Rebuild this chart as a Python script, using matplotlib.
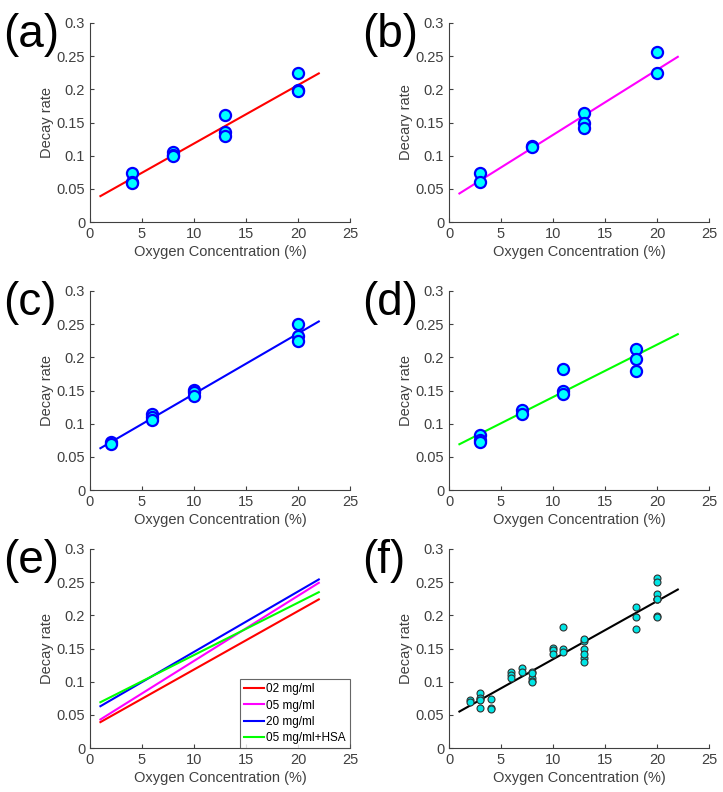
import numpy as np
import matplotlib
matplotlib.use("Agg")
import matplotlib.pyplot as plt

plt.rcParams["font.family"] = ["Liberation Sans", "DejaVu Sans"]

# -------------------------------------------------------
# Data
# -------------------------------------------------------

x_a = [4, 4, 4, 8, 8, 8, 13, 13, 13, 20, 20, 20]
y_a = [0.074, 0.061, 0.059, 0.106, 0.101, 0.100, 0.161, 0.135, 0.129, 0.225, 0.199, 0.198]

x_b = [3, 3, 8, 8, 13, 13, 13, 20, 20]
y_b = [0.074, 0.061, 0.114, 0.113, 0.165, 0.150, 0.141, 0.257, 0.225]

x_c = [2, 2, 6, 6, 6, 10, 10, 10, 20, 20, 20]
y_c = [0.072, 0.070, 0.114, 0.110, 0.105, 0.151, 0.147, 0.142, 0.250, 0.232, 0.224]

x_d = [3, 3, 3, 7, 7, 11, 11, 11, 18, 18, 18]
y_d = [0.083, 0.076, 0.073, 0.121, 0.115, 0.183, 0.150, 0.145, 0.212, 0.198, 0.180]

# fitted lines: intercept, slope (drawn from x=1 to x=22)
fit_a = (0.0302, 0.00881)
fit_b = (0.0332, 0.00981)
fit_c = (0.0539, 0.00910)
fit_d = (0.0611, 0.00790)
fit_all = (0.0462, 0.00876)

fit_range = [1, 22]

legend_labels = ["02 mg/ml", "05 mg/ml", "20 mg/ml", "05 mg/ml+HSA"]
line_colors = ["#ff0000", "#ff00ff", "#0000ff", "#00ff00"]

AX_COLOR = "#404040"


def style_axes(ax, ylabel="Decay rate"):
    ax.set_xlim(0, 25)
    ax.set_ylim(0, 0.3)
    ax.set_xticks([0, 5, 10, 15, 20, 25])
    ax.set_yticks([0, 0.05, 0.1, 0.15, 0.2, 0.25, 0.3])
    ax.set_yticklabels(["0", "0.05", "0.1", "0.15", "0.2", "0.25", "0.3"])
    for side in ["top", "right"]:
        ax.spines[side].set_visible(False)
    for side in ["left", "bottom"]:
        ax.spines[side].set_color(AX_COLOR)
        ax.spines[side].set_linewidth(0.8)
    ax.tick_params(direction="in", length=3, colors=AX_COLOR, labelsize=10.5,
                   labelcolor=AX_COLOR)
    ax.set_xlabel("Oxygen Concentration (%)", fontsize=10.5, color=AX_COLOR, labelpad=3)
    ax.set_ylabel(ylabel, fontsize=10.5, color=AX_COLOR, labelpad=2)


def fit_line(ax, fit, color):
    xs = np.array(fit_range)
    ax.plot(xs, fit[0] + fit[1] * xs, color=color, lw=1.5)


fig = plt.figure(figsize=(7.23, 7.92), dpi=100)
W, H = 723, 792
col_left = [90, 449]
col_w = 260
row_top = [23, 291, 549]
row_h = 199

axes = {}
labels = ["a", "b", "c", "d", "e", "f"]
for i, lab in enumerate(labels):
    r, c = divmod(i, 2)
    rect = [col_left[c] / W, 1 - (row_top[r] + row_h) / H, col_w / W, row_h / H]
    ax = fig.add_axes(rect)
    axes[lab] = ax
    fig.text((col_left[c] - 87) / W, 1 - (row_top[r] + 12) / H, f"({lab})",
             fontsize=33, va="center", ha="left", color="black")

panels = [("a", x_a, y_a, fit_a, line_colors[0]),
          ("b", x_b, y_b, fit_b, line_colors[1]),
          ("c", x_c, y_c, fit_c, line_colors[2]),
          ("d", x_d, y_d, fit_d, line_colors[3])]

for lab, xs, ys, fit, color in panels:
    ax = axes[lab]
    fit_line(ax, fit, color)
    ax.plot(xs, ys, "o", ms=8, mfc="#00ffff", mec="#0000ff", mew=1.6, zorder=3)
    style_axes(ax, "Decary rate" if lab == "b" else "Decay rate")

# (e) fitted lines only
ax = axes["e"]
for fit, color, label in zip([fit_a, fit_b, fit_c, fit_d], line_colors, legend_labels):
    xs = np.array(fit_range)
    ax.plot(xs, fit[0] + fit[1] * xs, color=color, lw=1.5, label=label)
style_axes(ax)
leg = ax.legend(loc="lower right", fontsize=8.5, borderaxespad=0, frameon=True,
                fancybox=False, handlelength=1.7, handletextpad=0.2,
                labelspacing=0.35, borderpad=0.35)
leg.get_frame().set_edgecolor("#404040")
leg.get_frame().set_linewidth(0.8)

# (f) all points pooled
ax = axes["f"]
x_all = x_a + x_b + x_c + x_d
y_all = y_a + y_b + y_c + y_d
fit_line(ax, fit_all, "black")
ax.plot(x_all, y_all, "o", ms=5, mfc="#00e5e5", mec="#303030", mew=0.8, zorder=3)
style_axes(ax)

fig.savefig("out.png", dpi=100, facecolor="white")
